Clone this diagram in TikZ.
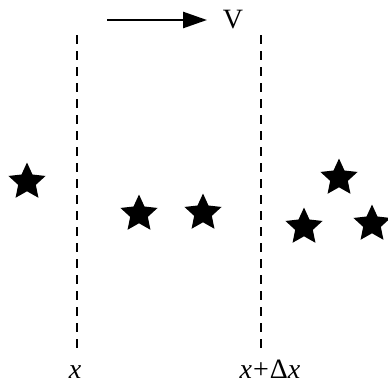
\documentclass[tikz,border=0pt]{standalone}
\usepackage{fontspec}
\setmainfont{Liberation Serif}
\usetikzlibrary{shapes.geometric, arrows.meta}

\begin{document}
\begin{tikzpicture}[x=1pt, y=-1pt,
        particle/.style={star, star points=5, star point ratio=2.1, fill=black, draw=none, minimum size=39pt, inner sep=0pt},
        boundary/.style={dash pattern=on 9pt off 7pt, line width=1.8pt},
        caption/.style={font=\fontsize{28}{30}\selectfont, inner sep=0pt, anchor=base}]
        \useasboundingbox (0,0) rectangle (388,383);

        % Draw boundaries
        \coordinate (1t) at (77,35);
        \coordinate (1b) at (77,350);
        \coordinate (2t) at (261,35);
        \coordinate (2b) at (261,350);
        \draw[boundary] (1t) -- (1b);
        \draw[boundary] (2t) -- (2b);
        \node[caption] (x1) at (75,378) {\textit{x}};
        \node[caption] (x2) at (270,378) {\textit{x}\kern1pt+\kern1ptΔ\textit{x}};

        % Draw velocity
        \coordinate (v0) at (107,20);
        \coordinate (v1) at (207,20);
        \node[caption] (v) at (233,28) {V};
        \draw[line width=2.6pt, -{Triangle[length=24pt, width=16pt]}] (v0) -- (v1);

        % Draw particles
        \node[particle] (s1) at (27,182) {};
        \node[particle] (s2) at (139,214) {};
        \node[particle] (s3) at (203,213) {};
        \node[particle] (s4) at (339,178) {};
        \node[particle] (s5) at (304,227) {};
        \node[particle] (s6) at (372,224) {};
    \end{tikzpicture}
\end{document}
